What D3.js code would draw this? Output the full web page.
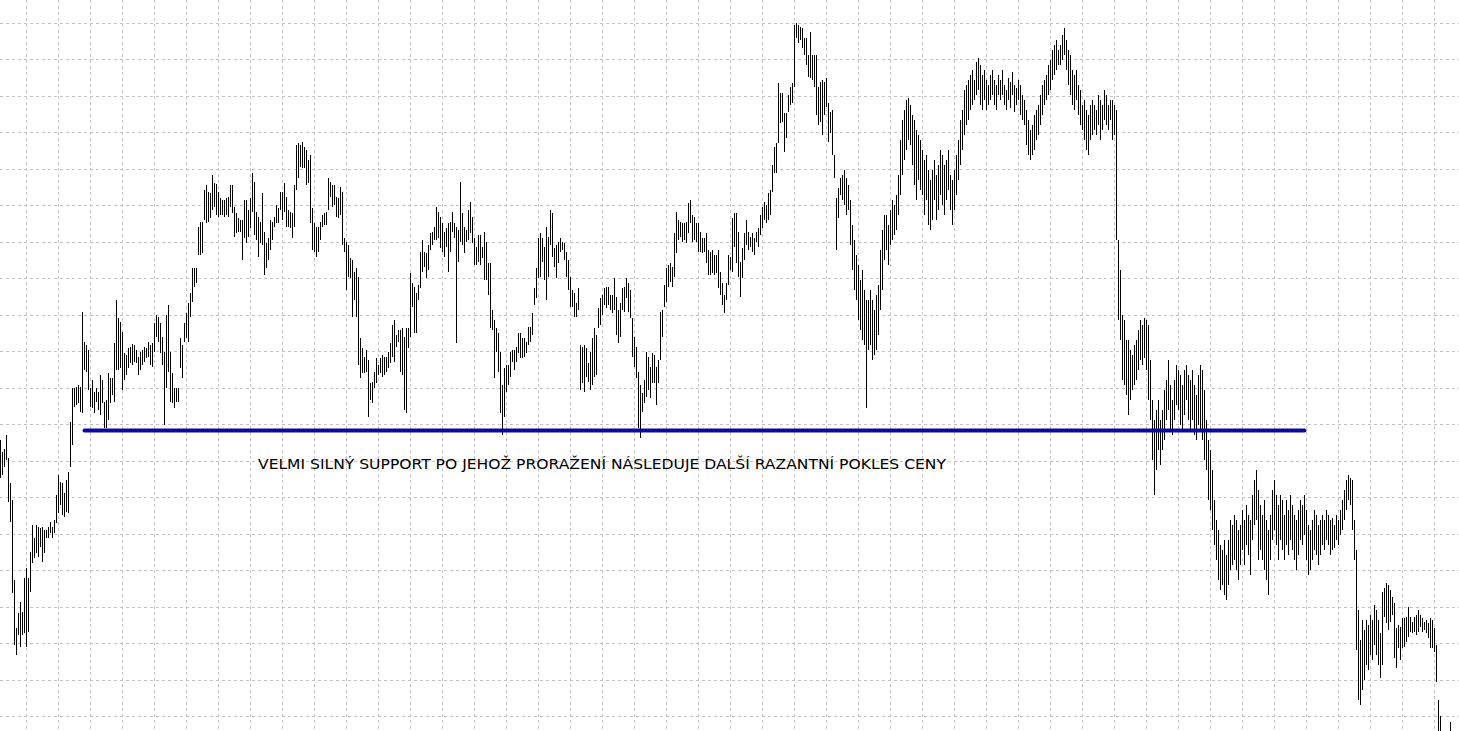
<!DOCTYPE html>
<html>
<head>
<meta charset="utf-8">
<script src="https://d3js.org/d3.v7.min.js"></script>
<style>
    html, body { margin: 0; padding: 0; background: #fff; overflow: hidden; }
    #main { width: 1459px; height: 731px; }
</style>
</head>
<body>
<div id="main"></div>
<script>

// bar highs (one bar every 2px)
const highs = [
    360,348,351,365,342,317,300,220,172,187,198,188,222,232,222,248,275,262,275,273,
    272,273,270,270,273,278,273,280,305,325,318,317,307,320,328,378,412,412,413,415,
    413,488,458,455,450,412,420,408,412,408,425,420,398,400,427,422,422,457,500,482,
    478,468,447,445,452,453,456,455,450,443,448,450,453,452,458,455,457,477,485,483,
    477,463,448,485,495,448,427,412,412,412,462,455,477,487,497,507,532,532,532,573,
    578,578,610,615,608,607,625,617,616,608,602,600,600,602,603,615,615,593,587,582,
    580,580,600,600,590,602,627,618,588,583,578,607,568,557,562,580,578,583,595,592,
    608,608,617,603,590,588,587,615,655,657,655,658,653,650,640,645,592,577,573,573,
    578,585,587,588,622,618,615,615,603,602,613,608,562,558,555,542,540,528,532,523,
    462,452,443,450,440,417,418,428,442,435,442,445,443,443,448,457,475,480,465,470,
    470,472,463,472,472,527,517,513,507,515,548,560,548,547,555,567,568,573,593,588,
    583,577,568,572,577,578,588,577,573,570,618,587,573,570,590,598,583,562,553,565,
    565,553,568,558,537,537,490,480,472,467,448,415,432,435,435,448,450,450,453,467,
    467,462,462,458,473,473,487,512,532,562,567,562,553,573,563,590,587,552,555,558,
    562,558,557,548,540,523,510,507,497,512,455,453,455,452,437,448,462,472,465,492,
    502,505,512,513,513,505,505,522,503,490,497,512,513,522,517,510,482,463,453,428,
    415,407,420,448,443,433,447,445,433,440,488,490,515,532,535,537,533,567,588,580,
    578,577,577,578,597,600,585,583,577,577,568,562,562,567,550,548,550,545,545,550,
    528,517,505,517,545,543,582,587,587,568,538,552,567,580,568,563,567,562,568,572,
    585,593,598,595,607,610,635,653,657,717,707,707,687,687,705,713,717,775,777,775,
    773,772,762,762,745,768,745,745,745,713,718,720,718,722,697,688,690,645,602,612,
    622,625,630,622,615,600,575,560,545,535,520,530,510,500,500,510,500,490,505,515,
    550,570,585,585,575,590,600,595,605,625,660,680,690,700,702,695,685,680,670,665,
    660,650,640,645,630,620,630,640,625,635,650,645,635,640,650,625,620,630,645,660,
    680,690,710,715,720,725,730,720,738,742,735,725,730,720,715,725,730,720,715,725,
    720,730,715,710,722,718,728,715,712,720,715,705,700,690,680,670,675,685,690,695,
    705,715,720,725,735,740,750,755,760,750,755,765,772,760,750,745,730,725,730,715,
    710,695,700,690,685,695,700,695,690,705,700,695,710,705,695,700,700,695,690,560,
    530,485,480,460,460,450,445,455,460,470,480,475,482,480,475,440,400,380,390,400,
    380,390,410,420,440,415,400,420,435,430,425,415,430,435,425,420,430,415,405,425,
    435,430,410,380,360,350,330,300,280,270,255,250,260,245,260,280,275,285,280,270,
    275,290,280,295,285,280,305,320,330,310,295,285,300,280,270,285,310,320,305,295,
    305,300,285,300,290,305,295,285,280,290,300,295,305,290,275,270,280,290,285,275,
    280,285,280,290,285,280,282,275,285,280,290,300,310,320,325,322,320,280,250,190,
    160,180,170,180,175,185,180,195,190,180,167,208,212,217,215,210,203,197,172,175,
    173,182,182,183,193,183,178,183,185,190,185,182,178,180,177,182,180,172,155,100,
    84,60,55,62,65,78
];

// bar lows
const lows = [
    322,325,333,340,298,278,207,155,145,165,153,165,167,153,168,208,237,242,247,243,
    253,238,247,262,262,267,262,267,277,287,295,285,283,288,287,333,355,393,395,397,
    388,387,430,428,410,393,392,387,398,390,385,397,372,372,380,397,405,398,430,430,
    432,410,420,425,432,437,435,438,437,425,430,435,438,442,443,435,433,448,463,458,
    447,435,375,412,428,398,397,392,398,398,432,422,458,462,458,483,498,513,517,545,
    545,547,580,577,578,582,590,593,585,583,585,585,583,585,583,593,587,563,567,568,
    568,540,562,557,563,572,588,565,560,543,557,555,525,532,540,550,560,573,577,577,
    590,580,588,573,573,572,562,573,610,622,633,632,632,615,617,577,550,548,543,548,
    560,573,575,575,590,603,593,595,583,582,585,555,548,510,523,522,483,500,483,435,
    422,427,427,428,383,400,397,412,417,425,427,423,425,428,432,437,443,438,453,458,
    428,425,390,387,452,463,493,467,467,500,512,528,533,522,530,550,555,560,560,562,
    552,548,543,553,528,548,568,562,457,538,558,555,547,558,560,567,557,535,535,538,
    535,542,520,520,505,472,470,422,448,428,387,365,383,408,415,423,438,430,438,447,
    442,442,443,447,455,458,465,495,502,522,523,538,520,500,523,555,543,533,522,537,
    548,550,540,523,510,493,493,483,483,490,410,417,408,423,418,410,415,423,425,472,
    475,485,495,492,495,490,487,490,465,457,463,490,488,502,488,482,443,433,422,372,
    362,388,397,403,410,402,417,417,395,417,440,463,493,498,513,518,513,523,547,560,
    563,558,560,557,567,577,558,560,558,548,548,547,548,537,525,525,527,525,527,512,
    505,495,487,500,515,530,528,553,537,523,503,522,540,555,550,553,548,545,558,553,
    565,572,580,577,580,585,608,627,627,657,677,678,648,662,688,695,697,713,762,757,
    760,752,745,735,723,722,720,713,685,675,678,665,685,693,658,667,645,622,550,582,
    605,600,595,585,590,555,530,510,500,480,470,460,455,392,450,455,440,445,450,465,
    490,510,540,550,535,555,560,565,570,585,605,625,640,650,660,655,635,615,600,620,
    610,605,585,600,575,570,580,600,580,590,605,595,585,600,610,590,575,590,605,620,
    635,650,665,675,680,690,695,700,705,710,695,690,700,690,695,700,705,695,690,705,
    700,705,695,690,700,692,705,688,695,700,685,680,675,655,645,640,645,650,660,665,
    675,685,695,700,705,710,720,725,730,735,735,740,745,730,715,705,695,690,700,685,
    675,670,660,650,645,660,665,670,665,675,660,670,680,675,670,680,660,665,560,480,
    460,420,415,405,385,400,410,415,420,430,440,435,442,430,400,380,340,305,330,350,
    335,350,360,380,390,370,365,380,395,390,375,370,385,400,380,370,380,365,360,375,
    370,360,340,330,300,290,270,255,240,220,210,215,205,200,215,230,235,240,230,220,
    235,250,235,255,245,225,260,275,280,240,250,240,230,220,205,240,260,270,255,240,
    260,250,240,255,245,260,250,240,230,245,260,255,265,240,225,230,240,250,245,235,
    245,255,250,260,255,245,250,252,260,255,265,270,280,290,300,295,270,240,150,100,
    95,110,120,135,130,145,140,155,145,135,122,135,183,177,170,178,185,142,132,152,
    140,152,153,158,163,168,167,168,165,168,173,168,170,167,162,152,152,148,118,55,
    45,30,25,32,40,50
];

// support level drawn by hand on the chart
const supportLevel = 369.5;
const supportFrom = 42;
const supportTo = 652;

const noteText = "VELMI SILNÝ SUPPORT PO JEHOŽ PRORAŽENÍ NÁSLEDUJE DALŠÍ RAZANTNÍ POKLES CENY";
const noteBar = 128.75;
const notePrice = 331;


class BarChartVis{

    constructor(highs, lows){

        this.highs = highs;
        this.lows = lows;

        let chartDiv = d3.select("#main");

        this.svgWidth = 1459;
        this.svgHeight = 731;
        this.barStep = 2;

        this.svg = chartDiv.append("svg")
            .attr("width", this.svgWidth)
            .attr("height", this.svgHeight)
            .style("display", "block")
            .style("background", "#fff");

        this.update();
    }

    update(){

        let n = this.highs.length;
        let data = d3.range(n).map(i => ({i: i, high: this.highs[i], low: this.lows[i]}));

        const xScale = d3.scaleLinear()
            .domain([0, n - 1])
            .range([0.5, 0.5 + this.barStep * (n - 1)]);

        const yScale = d3.scaleLinear()
            .domain([69, 800])
            .range([this.svgHeight, 0]);

        // grid, every 16 bars and every 36.5 price units
        let gridBars = d3.range(13, n + 16, 16);
        let gridPrices = d3.range(777, 60, -36.5);

        let grid = this.svg.append("g")
            .attr("class", "grid")
            .attr("stroke", "#c4c4c4")
            .attr("stroke-width", 1)
            .attr("stroke-dasharray", "3,3")
            .attr("shape-rendering", "crispEdges");

        grid.selectAll(".vgrid")
            .data(gridBars)
            .enter().append("line")
            .attr("class", "vgrid")
            .attr("x1", d => xScale(d))
            .attr("x2", d => xScale(d))
            .attr("y1", 0)
            .attr("y2", this.svgHeight);

        grid.selectAll(".hgrid")
            .data(gridPrices)
            .enter().append("line")
            .attr("class", "hgrid")
            .attr("x1", 0)
            .attr("x2", this.svgWidth)
            .attr("y1", d => yScale(d))
            .attr("y2", d => yScale(d));

        //high-low bars
        this.svg.append("g")
            .attr("class", "bars")
            .selectAll("line")
            .data(data)
            .enter().append("line")
            .attr("x1", d => xScale(d.i))
            .attr("x2", d => xScale(d.i))
            .attr("y1", d => yScale(d.high))
            .attr("y2", d => yScale(d.low))
            .attr("stroke", "black")
            .attr("stroke-width", 1)
            .attr("shape-rendering", "crispEdges");

        //support line
        this.svg.append("line")
            .attr("class", "support")
            .attr("x1", xScale(supportFrom))
            .attr("x2", xScale(supportTo))
            .attr("y1", yScale(supportLevel))
            .attr("y2", yScale(supportLevel))
            .attr("stroke", "#0a0aa0")
            .attr("stroke-width", 4)
            .attr("stroke-linecap", "round");

        //note under the support
        this.svg.append("text")
            .attr("class", "note")
            .attr("x", xScale(noteBar))
            .attr("y", yScale(notePrice))
            .attr("textLength", 688)
            .attr("lengthAdjust", "spacingAndGlyphs")
            .style("font-family", "'DejaVu Sans', Verdana, sans-serif")
            .style("font-size", "14px")
            .style("fill", "#000")
            .text(noteText);
    }
}

new BarChartVis(highs, lows);

</script>
</body>
</html>
